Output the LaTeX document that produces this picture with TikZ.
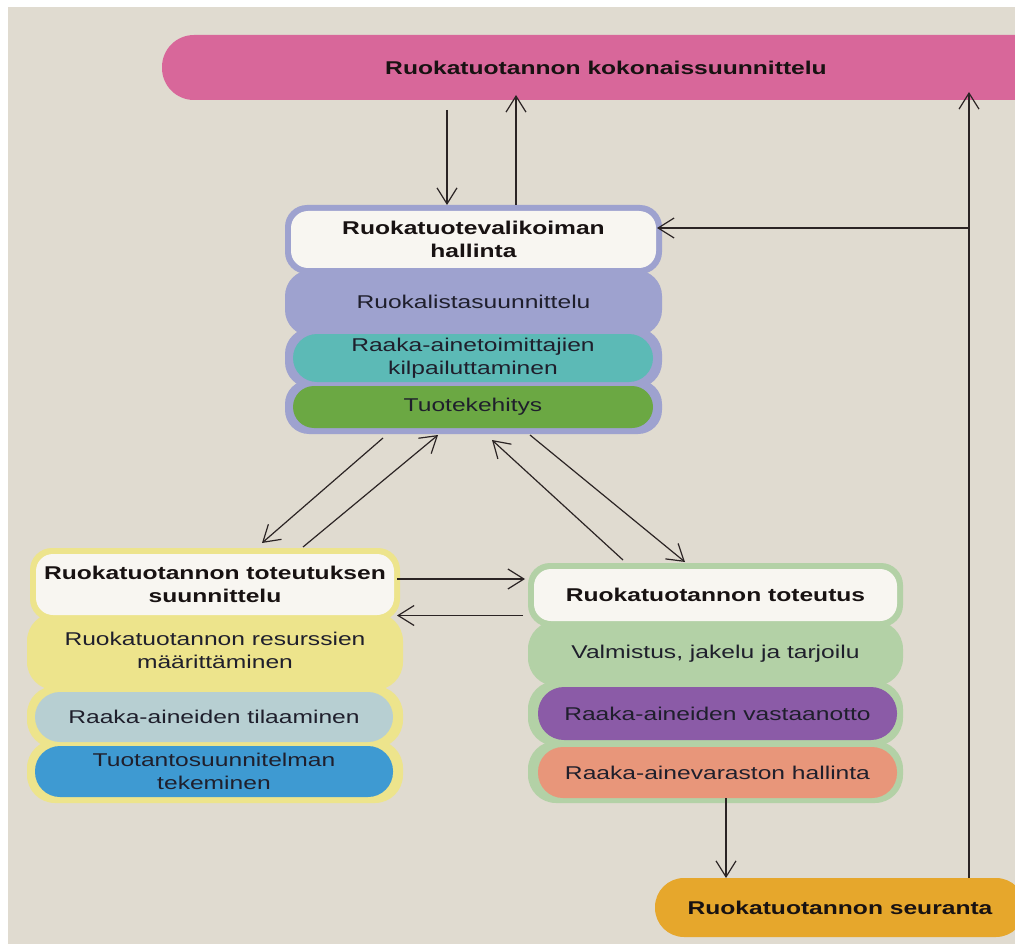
\documentclass[tikz,border=0pt]{standalone}
\usepackage{fontspec}
\setmainfont[FakeStretch=1.33]{Liberation Sans}
\usetikzlibrary{arrows.meta}
\definecolor{paper}{HTML}{E0DBD0}
\definecolor{pinkC}{HTML}{D8679A}
\definecolor{lilac}{HTML}{9EA2CF}
\definecolor{tealC}{HTML}{5CBAB6}
\definecolor{greenC}{HTML}{6BA843}
\definecolor{yellowC}{HTML}{EDE48C}
\definecolor{greyblue}{HTML}{B7CFD2}
\definecolor{blueC}{HTML}{3E9AD2}
\definecolor{mint}{HTML}{B3D1A6}
\definecolor{violet}{HTML}{8B5BA7}
\definecolor{salmon}{HTML}{E8967A}
\definecolor{orangeC}{HTML}{E6A72C}
\definecolor{offwhite}{HTML}{F8F6F1}
\definecolor{hdrc}{HTML}{181212}
\definecolor{txtc}{HTML}{1F1F2C}
\definecolor{arrc}{HTML}{2B2424}
\begin{document}
\begin{tikzpicture}[x=1pt,y=-1pt,
  blk/.style={rectangle, inner sep=0pt, outer sep=0pt, draw=none},
  txt/.style={font=\fontsize{18.5}{23}\selectfont, align=center, text=txtc},
  hdr/.style={font=\bfseries\fontsize{18.5}{23}\selectfont, align=center, text=hdrc},
  arr/.style={draw=arrc, line width=1.2pt, -{Straight Barb[length=16pt,width=20pt]}}]
\useasboundingbox (0,0) rectangle (1015,944);
\clip (0,0) rectangle (1015,944);
\fill[white] (0,0) rectangle (1015,944);
\fill[paper] (8,7) rectangle (1015,944);

% top and bottom boxes
\node[blk, fill=pinkC, rounded corners=32pt, minimum width=888pt, minimum height=65pt, hdr] (pink) at (606,67.5) {Ruokatuotannon kokonaissuunnittelu};
\node[blk, fill=orangeC, rounded corners=29pt, minimum width=370pt, minimum height=59pt, hdr] (seur) at (840,907.5) {Ruokatuotannon seuranta};

% hallinta group outers
\node[blk, fill=lilac, rounded corners=22pt, minimum width=377pt, minimum height=69pt] (halH) at (473.5,239.5) {};
\node[blk, fill=lilac, rounded corners=26pt, minimum width=377pt, minimum height=66pt] (halA) at (473.5,303) {};
\node[blk, fill=lilac, rounded corners=26pt, minimum width=377pt, minimum height=60pt] (halBo) at (473.5,358) {};
\node[blk, fill=lilac, rounded corners=24pt, minimum width=377pt, minimum height=54pt] (halC) at (473.5,407) {};
% left group outers
\node[blk, fill=yellowC, rounded corners=22pt, minimum width=370pt, minimum height=73pt] (leftH) at (215,584.5) {};
\node[blk, fill=yellowC, rounded corners=28pt, minimum width=376pt, minimum height=77pt] (leftA) at (215,651.5) {};
\node[blk, fill=yellowC, rounded corners=28pt, minimum width=376pt, minimum height=62pt] (leftBo) at (215,717) {};
\node[blk, fill=yellowC, rounded corners=28pt, minimum width=376pt, minimum height=63pt] (leftC) at (215,771.5) {};
% right group outers
\node[blk, fill=mint, rounded corners=22pt, minimum width=375pt, minimum height=64pt] (rightH) at (715.5,595) {};
\node[blk, fill=mint, rounded corners=28pt, minimum width=375pt, minimum height=65pt, txt] (rightA) at (715.5,653.5) {Valmistus, jakelu ja tarjoilu};
\node[blk, fill=mint, rounded corners=28pt, minimum width=375pt, minimum height=65pt] (rightBo) at (715.5,713.5) {};
\node[blk, fill=mint, rounded corners=28pt, minimum width=375pt, minimum height=62pt] (rightC) at (715.5,772) {};

% hallinta inners
\node[blk, fill=offwhite, rounded corners=17pt, minimum width=365pt, minimum height=57pt, hdr] (halHi) at (473.5,239.5) {Ruokatuotevalikoiman\\hallinta};
\node[blk, txt] (halAi) at (473.5,302) {Ruokalistasuunnittelu};
\node[blk, fill=tealC, rounded corners=24pt, minimum width=360pt, minimum height=48pt, txt] (halBi) at (473,358) {Raaka-ainetoimittajien\\kilpailuttaminen};
\node[blk, fill=greenC, rounded corners=21pt, minimum width=360pt, minimum height=42pt, txt] (halCi) at (473,407) {Tuotekehitys};
% left inners
\node[blk, fill=offwhite, rounded corners=17pt, minimum width=358pt, minimum height=61pt, hdr] (leftHi) at (215,584.5) {Ruokatuotannon toteutuksen\\suunnittelu};
\node[blk, txt] (leftAi) at (215,650) {Ruokatuotannon resurssien\\määrittäminen};
\node[blk, fill=greyblue, rounded corners=25pt, minimum width=358pt, minimum height=50pt, txt] (leftBi) at (214,717) {Raaka-aineiden tilaaminen};
\node[blk, fill=blueC, rounded corners=25pt, minimum width=358pt, minimum height=51pt, txt] (leftCi) at (214,771.5) {Tuotantosuunnitelman\\tekeminen};
% right inners
\node[blk, fill=offwhite, rounded corners=17pt, minimum width=363pt, minimum height=52pt, hdr] (rightHi) at (715.5,595) {Ruokatuotannon toteutus};
\node[blk, fill=violet, rounded corners=26pt, minimum width=359pt, minimum height=53pt, txt] (rightBi) at (717.5,713.5) {Raaka-aineiden vastaanotto};
\node[blk, fill=salmon, rounded corners=25pt, minimum width=359pt, minimum height=51pt, txt] (rightCi) at (717.5,772.5) {Raaka-ainevaraston hallinta};

% connectors
\draw[arr] ([xshift=-26.5pt,yshift=-10pt]halH.north |- pink.south) -- ([xshift=-26.5pt]halH.north);
\draw[arr] ([xshift=42.5pt]halH.north) -- ([xshift=42.5pt,yshift=5pt]halH.north |- pink.south);
\draw[arr] ([xshift=129pt]seur.north) -- ([xshift=129pt,yshift=8pt]seur.north |- pink.south);
\coordinate (j) at ([xshift=129pt,yshift=11.5pt]seur.north |- halH.east);
\draw[arr] (j) -- ([xshift=-5pt]halH.east |- j);
\draw[arr] ([xshift=8.5pt]rightCi.south) -- ([xshift=8.5pt]rightCi.south |- seur.north);

\draw[arr] ([xshift=-90.5pt,yshift=-4pt]halC.south) -- ([xshift=47pt,yshift=5pt]leftH.north);
\draw[arr] ([xshift=88pt,yshift=1pt]leftH.north) -- ([xshift=-35.5pt,yshift=-1pt]halC.south);
\draw[arr] ([xshift=-92.5pt,yshift=3pt]rightH.north) -- ([xshift=18.5pt,yshift=-6pt]halC.south);
\draw[arr] ([xshift=56.5pt,yshift=-1pt]halC.south) -- ([xshift=-30.5pt,yshift=1pt]rightH.north);

\draw[arr] ([xshift=-3pt,yshift=5.5pt]leftH.east) coordinate (e1) -- ([xshift=-3pt]rightH.west |- e1);
\draw[arr] ([xshift=-5pt,yshift=-20.5pt]rightH.west) coordinate (e2) -- ([xshift=-3pt]leftH.east |- e2);
\end{tikzpicture}
\end{document}
